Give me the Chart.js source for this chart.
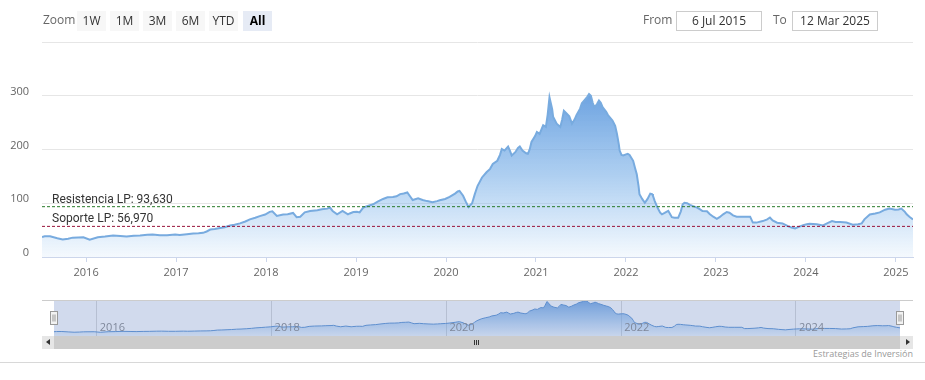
<!DOCTYPE html>
<html><head><meta charset="utf-8">
<script src="https://cdn.jsdelivr.net/npm/chart.js@4.4.1/dist/chart.umd.min.js"></script>
<style>
body{margin:0;background:#fff;width:925px;height:380px;overflow:hidden;position:relative;font-family:'Open Sans',sans-serif;}
canvas{position:absolute;left:0;}
#main{top:0;}
#nav{top:300px;}
.t{position:absolute;font-size:12px;line-height:20px;white-space:nowrap;}
.btn{position:absolute;top:11px;height:20px;width:29px;background:#f7f7f7;color:#333;font-size:12px;line-height:20px;text-align:center;}
.btn.sel{background:#e6ebf5;color:#000;font-weight:bold;}
.box{position:absolute;top:11px;height:18px;width:84px;border:1px solid #cccccc;color:#333;font-size:12px;line-height:18px;text-align:center;background:#fff;}
.abs{position:absolute;}
</style>
</head><body>
<canvas id="main" width="925" height="285"></canvas>
<canvas id="nav" width="925" height="36"></canvas>

<div class="t" style="left:43px;top:10px;color:#666;">Zoom</div>
<div class="btn" style="left:77px;">1W</div>
<div class="btn" style="left:110px;">1M</div>
<div class="btn" style="left:143px;">3M</div>
<div class="btn" style="left:176px;">6M</div>
<div class="btn" style="left:209px;">YTD</div>
<div class="btn sel" style="left:243px;">All</div>
<div class="t" style="left:643px;top:10px;color:#666;">From</div>
<div class="box" style="left:676px;">6 Jul 2015</div>
<div class="t" style="left:773px;top:10px;color:#666;">To</div>
<div class="box" style="left:792px;">12 Mar 2025</div>

<div class="abs" style="left:42px;top:300px;width:871px;height:1px;background:#cccccc;"></div>
<div class="abs" style="left:42px;top:336px;width:871px;height:13px;background:#f2f2f2;"></div>
<div class="abs" style="left:42px;top:336px;width:12px;height:13px;background:#e6e6e6;"></div>
<div class="abs" style="left:46px;top:339px;width:0;height:0;border-top:3px solid transparent;border-bottom:3px solid transparent;border-right:4px solid #333;"></div>
<div class="abs" style="left:54px;top:336px;width:846px;height:13px;background:#cccccc;"></div>
<div class="abs" style="left:474px;top:340px;width:1px;height:5px;background:#333;"></div>
<div class="abs" style="left:476px;top:340px;width:1px;height:5px;background:#333;"></div>
<div class="abs" style="left:478px;top:340px;width:1px;height:5px;background:#333;"></div>
<div class="abs" style="left:900px;top:336px;width:13px;height:13px;background:#e6e6e6;"></div>
<div class="abs" style="left:906px;top:339px;width:0;height:0;border-top:3px solid transparent;border-bottom:3px solid transparent;border-left:4px solid #333;"></div>
<div class="t" style="right:12px;top:347px;font-size:9px;line-height:14px;color:#999;">Estrategias de Inversión</div>
<div class="abs" style="left:0;top:362px;width:925px;height:1px;background:#d8d8d8;"></div>

<script>
// ---- data ----
const yearPos = [
2015.51,2015.54,2015.60,2015.68,2015.74,2015.80,2015.85,2015.97,2016.04,2016.13,
2016.21,2016.30,2016.38,2016.45,2016.53,2016.60,2016.68,2016.74,2016.82,2016.90,
2016.99,2017.04,2017.12,2017.19,2017.25,2017.30,2017.34,2017.38,2017.43,2017.49,
2017.54,2017.60,2017.65,2017.71,2017.77,2017.82,2017.88,2017.93,2017.99,2018.04,
2018.07,2018.12,2018.19,2018.24,2018.30,2018.34,2018.38,2018.43,2018.49,2018.57,
2018.62,2018.68,2018.71,2018.74,2018.79,2018.85,2018.91,2018.93,2018.97,2019.01,
2019.04,2019.08,2019.13,2019.19,2019.24,2019.30,2019.35,2019.41,2019.45,2019.49,
2019.53,2019.57,2019.60,2019.63,2019.69,2019.74,2019.79,2019.85,2019.90,2019.93,
2019.99,2020.04,2020.10,2020.13,2020.15,2020.19,2020.22,2020.25,2020.29,2020.32,
2020.35,2020.40,2020.45,2020.49,2020.52,2020.57,2020.60,2020.62,2020.65,2020.69,
2020.71,2020.73,2020.77,2020.80,2020.82,2020.85,2020.89,2020.91,2020.93,2020.95,
2020.99,2021.01,2021.04,2021.08,2021.11,2021.13,2021.15,2021.18,2021.19,2021.23,
2021.27,2021.29,2021.31,2021.34,2021.37,2021.40,2021.43,2021.45,2021.49,2021.51,
2021.54,2021.57,2021.59,2021.61,2021.63,2021.65,2021.68,2021.70,2021.72,2021.74,
2021.78,2021.80,2021.83,2021.85,2021.88,2021.90,2021.92,2021.93,2021.95,2021.97,
2022.00,2022.02,2022.04,2022.08,2022.10,2022.12,2022.14,2022.15,2022.18,2022.21,
2022.24,2022.27,2022.29,2022.30,2022.32,2022.35,2022.38,2022.40,2022.43,2022.47,
2022.49,2022.51,2022.54,2022.58,2022.61,2022.63,2022.65,2022.68,2022.71,2022.74,
2022.79,2022.82,2022.85,2022.90,2022.93,2022.97,2023.01,2023.04,2023.08,2023.12,
2023.15,2023.19,2023.23,2023.30,2023.38,2023.41,2023.45,2023.52,2023.57,2023.60,
2023.63,2023.68,2023.74,2023.80,2023.84,2023.88,2023.92,2023.97,2024.01,2024.04,
2024.12,2024.19,2024.24,2024.29,2024.33,2024.38,2024.45,2024.52,2024.58,2024.62,
2024.65,2024.71,2024.77,2024.82,2024.88,2024.93,2024.99,2025.03,2025.06,2025.10,
2025.12,2025.15,2025.19
];
const closeValues = [
37,38.5,38.7,35,32.5,34,36,36.8,32,36.8,
38,40,39,38,39.5,40,41.5,42,40.5,40.5,
42,41,42.5,43.7,44,45,47.5,51,52,54,
55.5,58.7,60,62.5,66,70,73,76,79,84,
85,76.5,79,79.5,82,74,75,83,85.6,87,
88.7,90,92,85.6,79.4,85.6,79.4,81,83.7,84,
83,92,95,98,103,108,111,111.5,113,117,
118,120,113,106,109,106,104,102,104,105.6,
108,112,118,122,123,114,103,93,100,117,
132,148,157.6,164,173,179,190,201,198,205.6,
198,189,195,203,205.6,198,193,192,200,214,
225,232.6,229,245,242,265,297,275,261,248,
242,255,272,267,262,248,256,264,276,286,
292,298,303,300,287,278,285,291,287,279,
270,264,258,254,244,229,210,198,190,189,
191,192,190,179,166,154,132,117,108,101,
108,118,117,113.7,104,92,82.5,79.4,82,86,
80,74,73,73,85,98,101,100,97,95,
92,89,85.6,85,80,75,71,74,79.4,83.7,
82.5,77.5,75,75,75,64,64,66.8,70,73.5,
68,63.8,62.5,57.4,55,53,56,59.3,61,62,
61,58.7,63,66.8,65,65,64,60,61,62.5,
70,79,81,83,88,90,88,88.5,90,84,
79.4,75,70
];
const yearTicks = [2016,2017,2018,2019,2020,2021,2022,2023,2024,2025];
const navYearTicks = [2016,2018,2020,2022,2024];
const priceTicks = [0,100,200,300,400];
const resistanceValue = 93.63;
const supportValue = 56.97;
const resistanceName = 'Resistencia LP';
const supportName = 'Soporte LP';

// ---- helpers ----
const points = yearPos.map((x,i)=>({x:x, y:closeValues[i]}));
const xMin = yearPos[0], xMax = yearPos[yearPos.length-1];
const fmt = v => v.toFixed(3).replace('.', ',');
const levels = [
  {value:resistanceValue, text:resistanceName + ': ' + fmt(resistanceValue), color:'#2a7a2a'},
  {value:supportValue, text:supportName + ': ' + fmt(supportValue), color:'#99143a'}
];

function areaGradient(ctx, top, bottom, a0, a1, a2){
  const g = ctx.createLinearGradient(0, top, 0, bottom);
  g.addColorStop(0, 'rgba(108,162,224,'+a0+')');
  g.addColorStop(0.5, 'rgba(124,177,232,'+a1+')');
  g.addColorStop(1, 'rgba(124,181,236,'+a2+')');
  return g;
}

const levelLabels = {
  id:'levelLabels',
  afterDatasetsDraw(chart){
    const {ctx, scales:{x, y}} = chart;
    ctx.save();
    ctx.font = '12px Roboto';
    ctx.fillStyle = '#333';
    ctx.textBaseline = 'middle';
    ctx.textAlign = 'left';
    levels.forEach(l => {
      ctx.fillText(l.text, x.getPixelForValue(xMin) + 10, y.getPixelForValue(l.value) - 7);
    });
    ctx.restore();
  }
};

const levelDatasets = levels.map(l => ({
  data:[{x:xMin, y:l.value},{x:xMax, y:l.value}],
  borderColor:l.color, borderWidth:1, borderDash:[3,2],
  pointRadius:0, fill:false, tension:0
}));

new Chart(document.getElementById('main'), {
  type:'line',
  data:{datasets:[...levelDatasets, {
    data:points,
    borderColor:'#78abdf', borderWidth:2, pointRadius:0, tension:0,
    fill:'origin',
    backgroundColor:(c)=>{
      const ch = c.chart; const ca = ch.chartArea;
      if(!ca) return 'rgba(124,181,236,0.4)';
      return areaGradient(ch.ctx, ch.scales.y.getPixelForValue(305), ca.bottom, 1, 0.62, 0.08);
    }
  }]},
  plugins:[levelLabels],
  options:{
    responsive:false, animation:false, devicePixelRatio:1,
    layout:{padding:{top:42, right:12, left:0, bottom:0}},
    plugins:{legend:{display:false}, tooltip:{enabled:false}},
    scales:{
      x:{type:'linear', min:xMin, max:xMax,
        afterBuildTicks:s=>{ s.ticks = yearTicks.map(v=>({value:v})); },
        afterFit:s=>{ s.height = 28; },
        ticks:{autoSkip:false, maxRotation:0, padding:4, color:'#666', font:{family:'Open Sans', size:11},
          callback:v=>String(v)},
        grid:{drawOnChartArea:false, drawTicks:true, tickLength:5, color:'#ccd6eb'},
        border:{display:true, color:'#ccd6eb'}
      },
      y:{min:0, max:400,
        afterBuildTicks:s=>{ s.ticks = priceTicks.map(v=>({value:v})); },
        afterFit:s=>{ s.width = 42; },
        ticks:{padding:13, labelOffset:-4, color:'#666', font:{family:'Open Sans', size:11},
          callback:v=> v === 400 ? '' : String(v)},
        grid:{color:'#e6e6e6', drawTicks:false},
        border:{display:false}
      }
    }
  }
});

// ---- navigator ----
const navDecor = {
  id:'navDecor',
  afterDatasetsDraw(chart){
    const {ctx, chartArea:ca, scales:{x}} = chart;
    ctx.save();
    ctx.font = '11px Open Sans';
    ctx.fillStyle = '#888';
    ctx.textBaseline = 'middle';
    ctx.textAlign = 'left';
    navYearTicks.forEach(v => ctx.fillText(String(v), x.getPixelForValue(v) + 3, 28));
    ctx.fillStyle = 'rgba(102,133,194,0.3)';
    ctx.fillRect(ca.left, ca.top, ca.right - ca.left, ca.bottom - ca.top);
    [ca.left, ca.right].forEach(px => {
      const hx = Math.round(px) - 3.5;
      ctx.fillStyle = '#f2f2f2';
      ctx.strokeStyle = '#999';
      ctx.lineWidth = 1;
      ctx.fillRect(hx, 11.5, 7, 13);
      ctx.strokeRect(hx, 11.5, 7, 13);
      ctx.beginPath();
      ctx.moveTo(hx + 2.5, 14.5); ctx.lineTo(hx + 2.5, 21.5);
      ctx.moveTo(hx + 4.5, 14.5); ctx.lineTo(hx + 4.5, 21.5);
      ctx.stroke();
    });
    ctx.restore();
  }
};

new Chart(document.getElementById('nav'), {
  type:'line',
  data:{datasets:[{
    data:points,
    borderColor:'#5b93d3', borderWidth:1, pointRadius:0, tension:0,
    fill:'origin',
    backgroundColor:(c)=>{
      const ch = c.chart; const ca = ch.chartArea;
      if(!ca) return 'rgba(124,181,236,0.4)';
      return areaGradient(ch.ctx, ca.top, ca.bottom, 0.95, 0.6, 0.1);
    }
  }]},
  plugins:[navDecor],
  options:{
    responsive:false, animation:false, devicePixelRatio:1,
    layout:{padding:{top:0, right:25, left:54, bottom:0}},
    plugins:{legend:{display:false}, tooltip:{enabled:false}},
    scales:{
      x:{type:'linear', min:xMin, max:xMax, display:true,
        afterBuildTicks:s=>{ s.ticks = navYearTicks.map(v=>({value:v})); },
        afterFit:s=>{ s.height = 0; },
        ticks:{display:false},
        grid:{color:'#d8d8d8', drawTicks:false},
        border:{display:false}
      },
      y:{min:0, max:310, display:false}
    }
  }
});
</script>
</body></html>
